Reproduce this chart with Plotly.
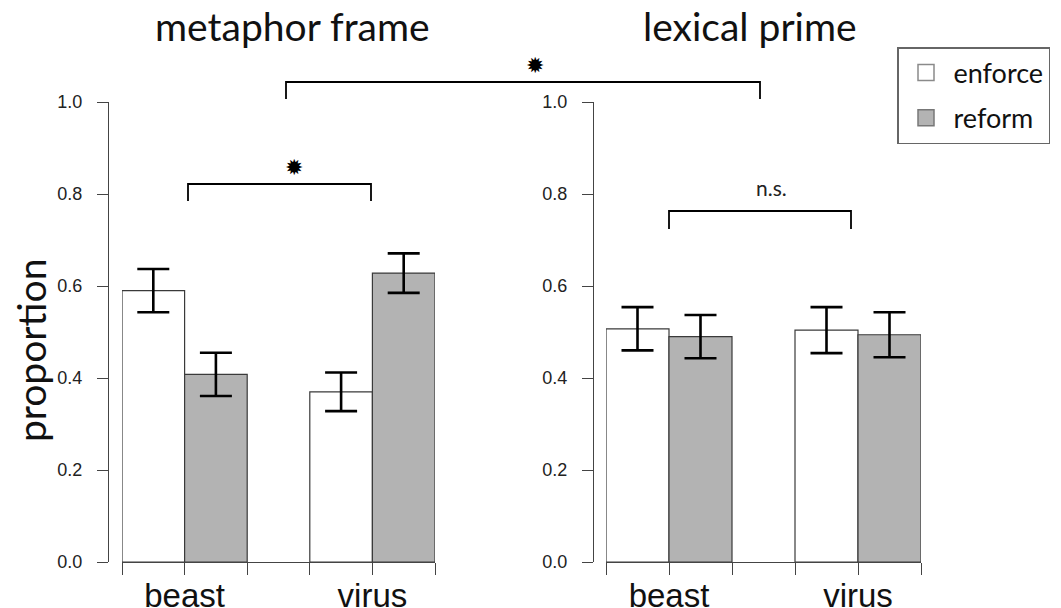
import plotly.graph_objects as go

W, H = 1061, 608

# ---- data ----
groups = ["beast", "virus"]
panels = ["metaphor frame", "lexical prime"]
series = ["enforce", "reform"]

metaphor_enforce = [0.590, 0.370]
metaphor_enforce_err = [0.047, 0.042]
metaphor_reform = [0.408, 0.628]
metaphor_reform_err = [0.047, 0.043]

lexical_enforce = [0.507, 0.504]
lexical_enforce_err = [0.047, 0.050]
lexical_reform = [0.490, 0.494]
lexical_reform_err = [0.047, 0.049]

y_ticks = [0.0, 0.2, 0.4, 0.6, 0.8, 1.0]
sig_labels = ["\u2739", "n.s.", "\u2739"]

# ---- helpers ----
def px(x):
    return x / W

def py(y):
    return 1 - y / H

# bar layout in axis units: groups start at 1, bar width 1, one unit gap between groups
enf_pos = [1.5, 4.5]
ref_pos = [2.5, 5.5]
tickpos = [1, 2, 3, 4, 5, 6]
ticktext = ["", groups[0], "", "", groups[1], ""]

FILL = ["#ffffff", "#b3b3b3"]
OUTLINE = "#3a3a3a"
LEG_OUTLINE = ["#8a8a8a", "#777777"]

fig = go.Figure()

data = [
    (metaphor_enforce, metaphor_enforce_err, metaphor_reform, metaphor_reform_err, "x", "y"),
    (lexical_enforce, lexical_enforce_err, lexical_reform, lexical_reform_err, "x2", "y2"),
]

for i, (e, ee, r, re, xa, ya) in enumerate(data):
    for j, (vals, errs, pos) in enumerate([(e, ee, enf_pos), (r, re, ref_pos)]):
        fig.add_trace(go.Bar(
            x=pos, y=vals, width=1,
            name=series[j], legendgroup=series[j], showlegend=False,
            marker=dict(color=FILL[j], line=dict(color=OUTLINE, width=1.2)),
            error_y=dict(type="data", array=errs, color="black", thickness=2.6, width=16),
            xaxis=xa, yaxis=ya,
        ))

# legend entries (square swatches)
for j in range(2):
    fig.add_trace(go.Scatter(
        x=[None], y=[None], mode="markers", name=series[j], legendgroup=series[j],
        marker=dict(symbol="square", size=22, color=FILL[j],
                    line=dict(color=LEG_OUTLINE[j], width=1.5)),
        showlegend=True, xaxis="x", yaxis="y",
    ))

ybot, ytop = 562, 102
axis_common = dict(showgrid=False, zeroline=False, showline=True, linecolor="#444",
                   linewidth=1.4, ticks="outside", tickcolor="#444", tickwidth=1.4)

xfont = dict(family="Liberation Sans, Arial", size=33, color="#111")
yfont = dict(family="Liberation Sans, Arial", size=18, color="#222")

fig.update_layout(
    xaxis=dict(domain=[px(122), px(435)], range=[1, 6], anchor="y", tickvals=tickpos,
               ticktext=ticktext, ticklen=12, tickfont=xfont, ticklabelstandoff=-8,
               **axis_common),
    yaxis=dict(domain=[py(ybot), py(ytop)], range=[0, 1], anchor="free", position=px(108),
               tickvals=y_ticks, tickformat=".1f", ticklen=11, tickfont=yfont,
               ticklabelstandoff=11, **axis_common),
    xaxis2=dict(domain=[px(606), px(921)], range=[1, 6], anchor="y2", tickvals=tickpos,
                ticktext=ticktext, ticklen=12, tickfont=xfont, ticklabelstandoff=-8,
                **axis_common),
    yaxis2=dict(domain=[py(ybot), py(ytop)], range=[0, 1], anchor="free", position=px(593),
                tickvals=y_ticks, tickformat=".1f", ticklen=11, tickfont=yfont,
                ticklabelstandoff=11, **axis_common),
    barmode="overlay",
    width=W, height=H,
    margin=dict(l=0, r=0, t=0, b=0, autoexpand=False),
    plot_bgcolor="white", paper_bgcolor="white",
    legend=dict(x=px(897), y=py(47), xanchor="left", yanchor="top",
                bordercolor="#666", borderwidth=1.5, bgcolor="white",
                font=dict(family="Lato", size=27, color="#111"),
                tracegroupgap=7, itemwidth=45),
    showlegend=True,
)

TFONT = dict(family="Lato", size=39, color="#111")
ann = [
    dict(x=px(292), y=py(26), text=panels[0], font=TFONT),
    dict(x=px(750), y=py(26), text=panels[1], font=TFONT),
    dict(x=px(31), y=py(351), text="proportion", textangle=-90, font=TFONT),
    dict(x=px(294), y=py(167), text=sig_labels[0], font=dict(family="DejaVu Sans", size=22, color="black")),
    dict(x=px(771), y=py(187), text=sig_labels[1], font=dict(family="Lato", size=21, color="#222")),
    dict(x=px(535), y=py(66), text=sig_labels[2], font=dict(family="DejaVu Sans", size=22, color="black")),
]
for a in ann:
    a.update(xref="paper", yref="paper", showarrow=False, xanchor="center", yanchor="middle")
fig.update_layout(annotations=ann)

# significance brackets (paper coordinates)
def bracket(x0, x1, ytopp, ybotp):
    return dict(type="path", xref="paper", yref="paper",
                path=f"M {px(x0)},{py(ybotp)} L {px(x0)},{py(ytopp)} L {px(x1)},{py(ytopp)} L {px(x1)},{py(ybotp)}",
                line=dict(color="black", width=1.8))

fig.update_layout(shapes=[
    bracket(188, 371, 184, 201),
    bracket(669, 851, 211, 229),
    bracket(286, 760, 82, 99),
])

fig.write_html("out.html", config={"displayModeBar": False},
               post_script="document.body.style.margin='0px';document.body.style.overflow='hidden';")
